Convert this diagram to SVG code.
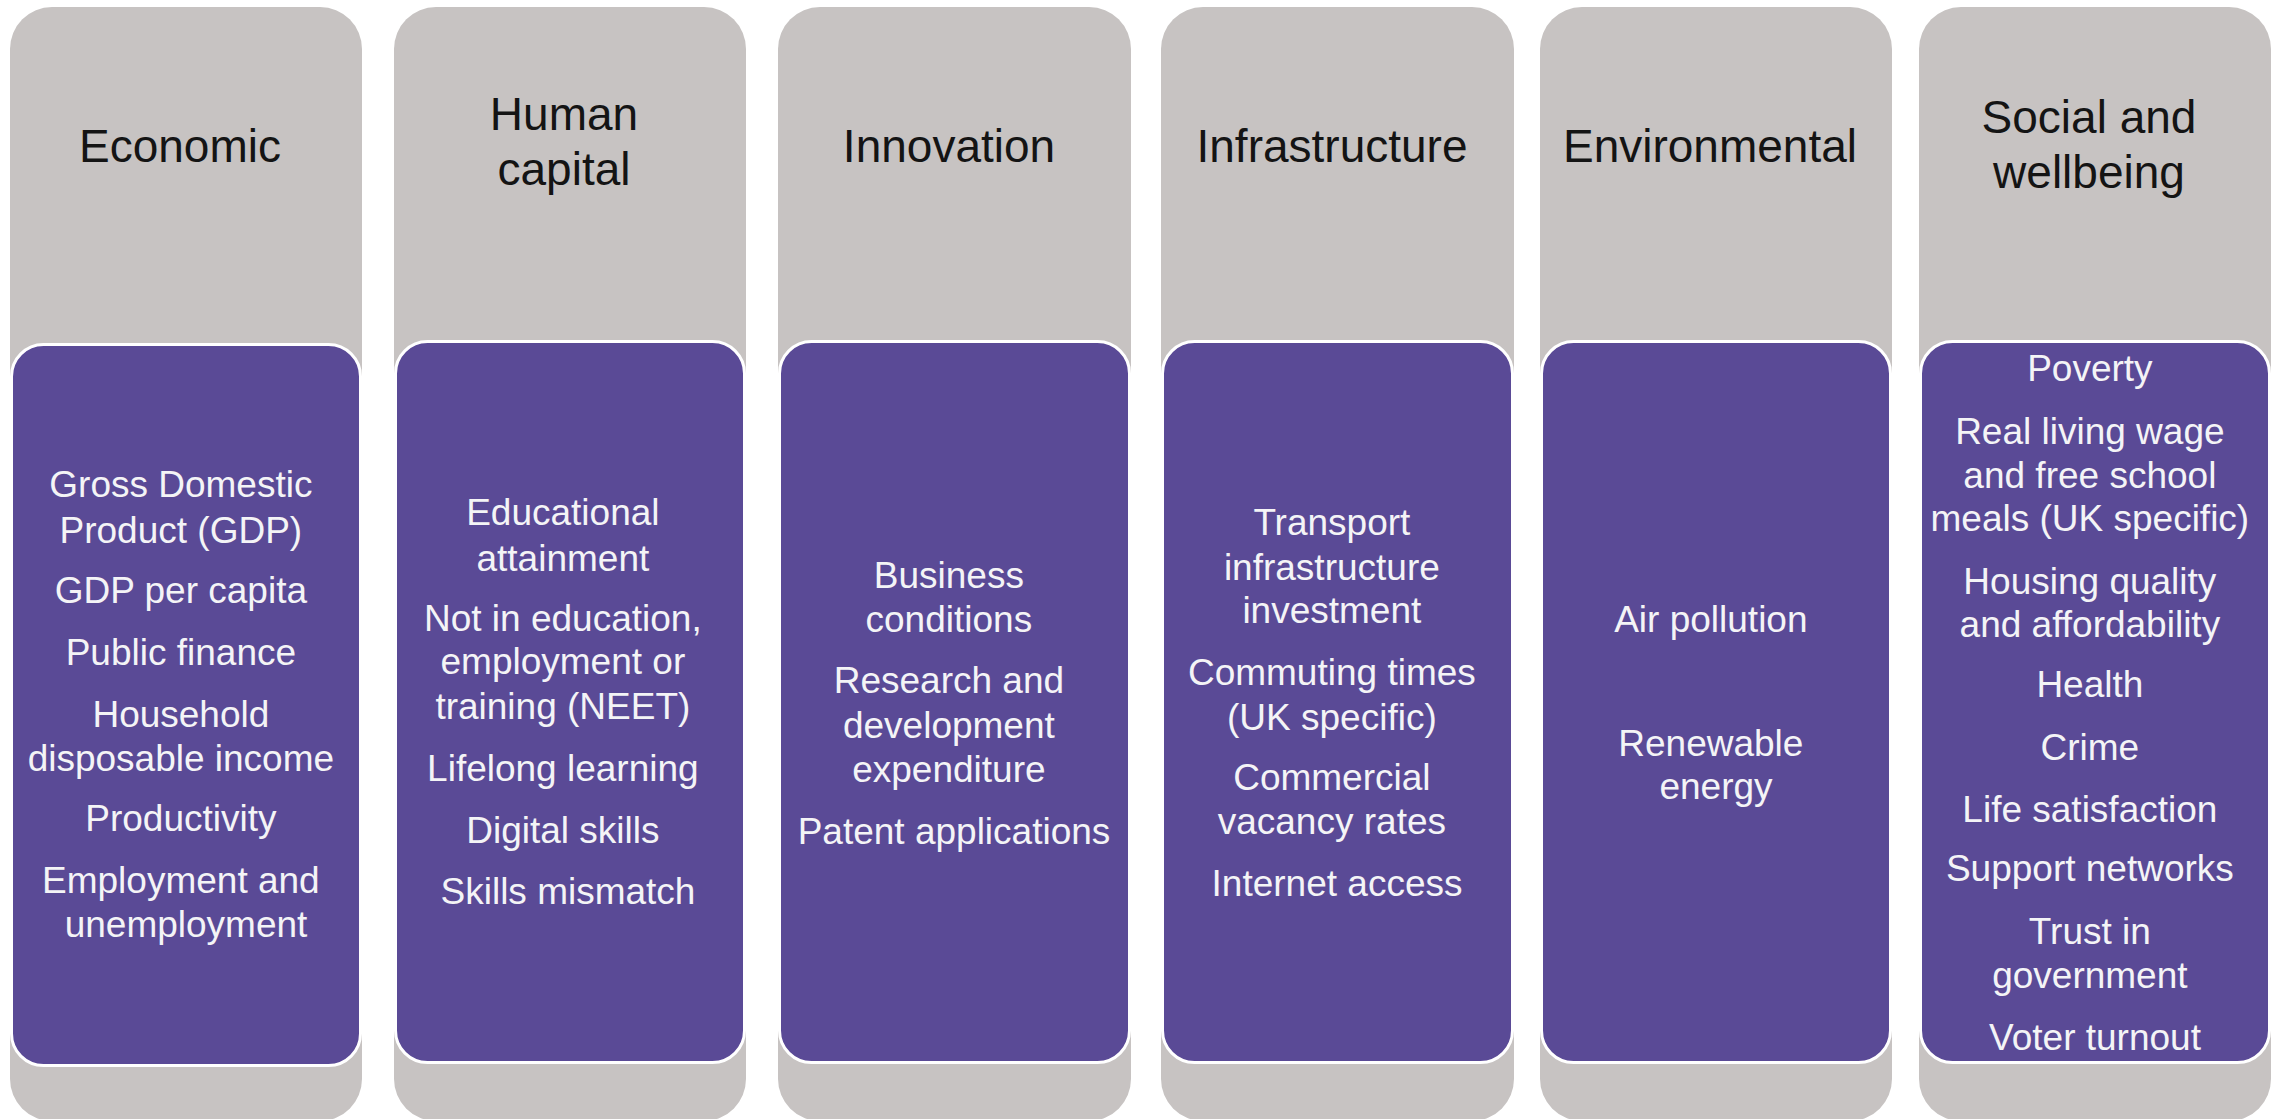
<svg xmlns="http://www.w3.org/2000/svg" width="2280" height="1119" viewBox="0 0 2280 1119">
<style>
.bg{fill:#c7c3c2}
.box{fill:#5a4a96;stroke:#ffffff;stroke-width:3}
.title{font-family:"Liberation Sans",Arial,sans-serif;font-size:46px;fill:#141414;text-anchor:middle}
.item{font-family:"Liberation Sans",Arial,sans-serif;font-size:37px;fill:#f4f4f6;text-anchor:middle}
</style>
<rect width="2280" height="1119" fill="#ffffff"/>
<g id="economic">
<rect class="bg" x="10" y="7" width="352" height="1114" rx="42"/>
<rect class="box" x="11.5" y="344.5" width="349" height="721" rx="32"/>
<text class="title" x="180" y="162">Economic</text>
<text class="item">
<tspan x="186" y="497">Gross Domestic</tspan>
<tspan x="186" y="543">Product (GDP)</tspan>
<tspan x="186" y="603">GDP per capita</tspan>
<tspan x="186" y="665">Public finance</tspan>
<tspan x="186" y="727">Household</tspan>
<tspan x="186" y="771">disposable income</tspan>
<tspan x="186" y="831">Productivity</tspan>
<tspan x="186" y="893">Employment and</tspan>
<tspan x="186" y="937">unemployment</tspan>
</text>
</g>
<g id="human-capital">
<rect class="bg" x="394" y="7" width="352" height="1114" rx="42"/>
<rect class="box" x="395.5" y="341.5" width="349" height="721" rx="32"/>
<text class="title"><tspan x="564" y="130">Human</tspan><tspan x="564" y="185">capital</tspan></text>
<text class="item">
<tspan x="568" y="525">Educational</tspan>
<tspan x="568" y="571">attainment</tspan>
<tspan x="568" y="631">Not in education,</tspan>
<tspan x="568" y="674">employment or</tspan>
<tspan x="568" y="719">training (NEET)</tspan>
<tspan x="568" y="781">Lifelong learning</tspan>
<tspan x="568" y="843">Digital skills</tspan>
<tspan x="568" y="904">Skills mismatch</tspan>
</text>
</g>
<g id="innovation">
<rect class="bg" x="778" y="7" width="353" height="1114" rx="42"/>
<rect class="box" x="779.5" y="341.5" width="350" height="721" rx="32"/>
<text class="title" x="949" y="162">Innovation</text>
<text class="item">
<tspan x="954" y="588">Business</tspan>
<tspan x="954" y="632">conditions</tspan>
<tspan x="954" y="693">Research and</tspan>
<tspan x="954" y="738">development</tspan>
<tspan x="954" y="782">expenditure</tspan>
<tspan x="954" y="844">Patent applications</tspan>
</text>
</g>
<g id="infrastructure">
<rect class="bg" x="1161" y="7" width="353" height="1114" rx="42"/>
<rect class="box" x="1162.5" y="341.5" width="350" height="721" rx="32"/>
<text class="title" x="1332" y="162">Infrastructure</text>
<text class="item">
<tspan x="1337" y="535">Transport</tspan>
<tspan x="1337" y="580">infrastructure</tspan>
<tspan x="1337" y="623">investment</tspan>
<tspan x="1337" y="685">Commuting times</tspan>
<tspan x="1337" y="730">(UK specific)</tspan>
<tspan x="1337" y="790">Commercial</tspan>
<tspan x="1337" y="834">vacancy rates</tspan>
<tspan x="1337" y="896">Internet access</tspan>
</text>
</g>
<g id="environmental">
<rect class="bg" x="1540" y="7" width="352" height="1114" rx="42"/>
<rect class="box" x="1541.5" y="341.5" width="349" height="721" rx="32"/>
<text class="title" x="1710" y="162">Environmental</text>
<text class="item">
<tspan x="1716" y="632">Air pollution</tspan>
<tspan x="1716" y="756">Renewable</tspan>
<tspan x="1716" y="799">energy</tspan>
</text>
</g>
<g id="social-wellbeing">
<rect class="bg" x="1919" y="7" width="352" height="1114" rx="42"/>
<rect class="box" x="1920.5" y="341.5" width="349" height="721" rx="32"/>
<text class="title"><tspan x="2089" y="133">Social and</tspan><tspan x="2089" y="188">wellbeing</tspan></text>
<text class="item">
<tspan x="2095" y="381">Poverty</tspan>
<tspan x="2095" y="444">Real living wage</tspan>
<tspan x="2095" y="488">and free school</tspan>
<tspan x="2095" y="531">meals (UK specific)</tspan>
<tspan x="2095" y="594">Housing quality</tspan>
<tspan x="2095" y="637">and affordability</tspan>
<tspan x="2095" y="697">Health</tspan>
<tspan x="2095" y="760">Crime</tspan>
<tspan x="2095" y="822">Life satisfaction</tspan>
<tspan x="2095" y="881">Support networks</tspan>
<tspan x="2095" y="944">Trust in</tspan>
<tspan x="2095" y="988">government</tspan>
<tspan x="2095" y="1050">Voter turnout</tspan>
</text>
</g>
</svg>
